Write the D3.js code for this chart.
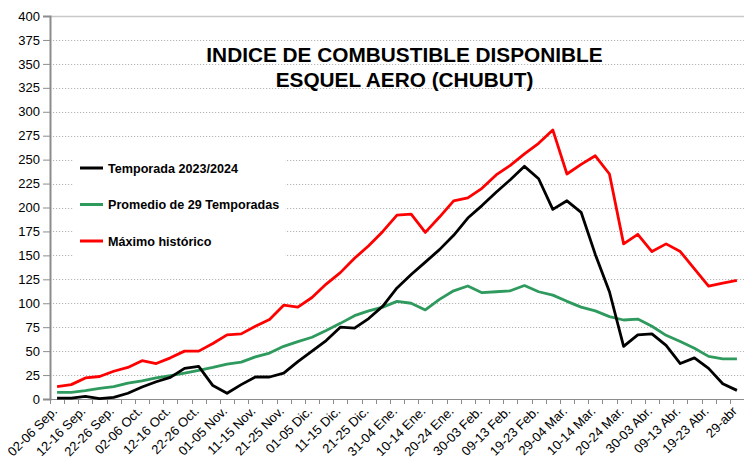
<!DOCTYPE html>
<html>
<head>
<meta charset="utf-8">
<script src="https://cdn.jsdelivr.net/npm/d3@7"></script>
<style>
  html, body { margin: 0; padding: 0; background: #fff; }
  svg { display: block; font-family: "Liberation Sans", Arial, sans-serif; }
</style>
</head>
<body>
<svg id="chart" width="744" height="465"></svg>
<script>
// ---- Data ----
const categories = [
  "02-06 Sep.", "07-11 Sep.", "12-16 Sep.", "17-21 Sep.", "22-26 Sep.", "27-01 Oct.",
  "02-06 Oct.", "07-11 Oct.", "12-16 Oct.", "17-21 Oct.", "22-26 Oct.", "27-31 Oct.",
  "01-05 Nov.", "06-10 Nov.", "11-15 Nov.", "16-20 Nov.", "21-25 Nov.", "26-30 Nov.",
  "01-05 Dic.", "06-10 Dic.", "11-15 Dic.", "16-20 Dic.", "21-25 Dic.", "26-30 Dic.",
  "31-04 Ene.", "05-09 Ene.", "10-14 Ene.", "15-19 Ene.", "20-24 Ene.", "25-29 Ene.",
  "30-03 Feb.", "04-08 Feb.", "09-13 Feb.", "14-18 Feb.", "19-23 Feb.", "24-28 Feb.",
  "29-04 Mar.", "05-09 Mar.", "10-14 Mar.", "15-19 Mar.", "20-24 Mar.", "25-29 Mar.",
  "30-03 Abr.", "04-08 Abr.", "09-13 Abr.", "14-18 Abr.", "19-23 Abr.", "24-28 Abr.",
  "29-abr"
];
const tickLabels = [
  "02-06 Sep.", "12-16 Sep.", "22-26 Sep.", "02-06 Oct.", "12-16 Oct.", "22-26 Oct.",
  "01-05 Nov.", "11-15 Nov.", "21-25 Nov.", "01-05 Dic.", "11-15 Dic.", "21-25 Dic.",
  "31-04 Ene.", "10-14 Ene.", "20-24 Ene.", "30-03 Feb.", "09-13 Feb.", "19-23 Feb.",
  "29-04 Mar.", "10-14 Mar.", "20-24 Mar.", "30-03 Abr.", "09-13 Abr.", "19-23 Abr.",
  "29-abr"
];
const temporada = [
  1, 1, 2.8, 0.5, 1.7, 6, 12.5, 18, 22.6, 32, 34, 14, 6, 15, 23, 23, 27, 39, 50, 61,
  75, 74, 84, 97, 116, 130, 143, 156, 171, 189, 202, 216, 229, 243, 230, 198, 207, 195,
  151, 112, 55, 67, 68, 56, 37, 43, 32, 16, 9
];
const promedio = [
  7, 7, 8.7, 11, 13, 16.5, 19, 22, 24.5, 27, 30, 33, 36.5, 38.5, 44, 48, 55, 60, 64.5,
  71.5, 79, 87, 92, 96, 102, 100, 93, 104, 113, 118, 111, 112, 113, 118.5, 112, 108.5,
  102, 96, 92, 86, 82.5, 83.5, 76, 66.5, 60, 53, 44.5, 42, 42
];
const maximo = [
  13, 15, 22, 23.5, 29, 33, 40, 37, 43, 50, 50, 58, 67, 68, 76, 83, 98, 96, 106, 120,
  132, 147, 160, 175, 192, 193, 174, 190, 207, 210, 220, 234, 244, 256, 267, 281, 235,
  245, 254, 235, 162, 172, 154, 162, 154, 136, 118, 121, 124
];
const yTicks = [0, 25, 50, 75, 100, 125, 150, 175, 200, 225, 250, 275, 300, 325, 350, 375, 400];
const seriesNames = ["Temporada 2023/2024", "Promedio de 29 Temporadas", "Máximo histórico"];
const seriesColors = ["#000000", "#2e9a5e", "#ff0000"];
const titleLines = ["INDICE DE COMBUSTIBLE DISPONIBLE", "ESQUEL AERO (CHUBUT)"];

// ---- Layout ----
const svg = d3.select("#chart");
const plotLeft = 50, plotRight = 744, plotTop = 16, plotBottom = 399;

const x = d3.scaleBand().domain(categories).range([plotLeft, plotRight]).paddingInner(0).paddingOuter(0);
const y = d3.scaleLinear().domain([0, 400]).range([plotBottom, plotTop]);
const cx = c => x(c) + x.bandwidth() / 2;

// gridlines
const grid = svg.append("g");
grid.selectAll("line").data(yTicks.filter(v => v > 0)).join("line")
  .attr("x1", plotLeft).attr("x2", plotRight)
  .attr("y1", d => Math.round(y(d)) + 0.5).attr("y2", d => Math.round(y(d)) + 0.5)
  .attr("stroke", d => d === 400 ? "#c8c8c8" : "#b4b4b4")
  .attr("stroke-width", d => d === 400 ? 1.5 : 1)
  .attr("stroke-dasharray", d => d === 400 ? null : "1.2,1.8");

// y axis
const yAxis = svg.append("g")
  .attr("transform", `translate(${plotLeft},0)`)
  .call(d3.axisLeft(y).tickValues(yTicks).tickSize(7).tickPadding(3).tickFormat(d3.format("d")));
yAxis.select(".domain").attr("stroke", "#8c8c8c").attr("stroke-width", 2);
yAxis.selectAll(".tick line").attr("stroke", "#8c8c8c");
yAxis.selectAll(".tick text").attr("font-size", 13).attr("fill", "#000")
  .attr("font-family", "Liberation Sans, Arial, sans-serif");

// x axis with ticks at band boundaries
const xAxisG = svg.append("g").attr("transform", `translate(0,${plotBottom})`);
xAxisG.append("line").attr("x1", plotLeft).attr("x2", plotRight).attr("y1", 0.5).attr("y2", 0.5)
  .attr("stroke", "#8c8c8c").attr("stroke-width", 1.2);
xAxisG.selectAll("line.tk").data(categories).join("line").attr("class", "tk")
  .attr("x1", d => Math.round(x(d)) + 0.5).attr("x2", d => Math.round(x(d)) + 0.5)
  .attr("y1", 0).attr("y2", 5).attr("stroke", "#8c8c8c");

const labelCats = categories.filter(c => tickLabels.includes(c));
svg.append("g").selectAll("text").data(labelCats).join("text")
  .attr("transform", d => `translate(${cx(d) + 1},${plotBottom + 13}) rotate(-45)`)
  .attr("text-anchor", "end")
  .attr("font-size", 13)
  .attr("fill", "#000")
  .text(d => d);

// legend background
svg.append("rect").attr("x", 73).attr("y", 145).attr("width", 212).attr("height", 118).attr("fill", "#fff");

// lines
const line = d3.line().x((d, i) => cx(categories[i])).y(d => y(d));
const allSeries = [temporada, promedio, maximo];
[1, 2, 0].forEach(k => {
  svg.append("path").datum(allSeries[k])
    .attr("d", line)
    .attr("fill", "none")
    .attr("stroke", seriesColors[k])
    .attr("stroke-width", 2.8)
    .attr("stroke-linejoin", "round");
});

// legend
const legY = [168, 204.5, 241];
const leg = svg.append("g");
seriesNames.forEach((n, i) => {
  leg.append("line").attr("x1", 80).attr("x2", 103).attr("y1", legY[i]).attr("y2", legY[i])
    .attr("stroke", seriesColors[i]).attr("stroke-width", 3);
  leg.append("text").attr("x", 108).attr("y", legY[i] + 4.5)
    .attr("font-size", 12.6).attr("font-weight", "bold").attr("fill", "#000").text(n);
});

// title
svg.append("g").selectAll("text").data(titleLines).join("text")
  .attr("x", 404.5).attr("y", (d, i) => 62 + i * 24.5)
  .attr("text-anchor", "middle")
  .attr("font-size", 20.8).attr("font-weight", "bold").attr("fill", "#000")
  .text(d => d);
</script>
</body>
</html>
